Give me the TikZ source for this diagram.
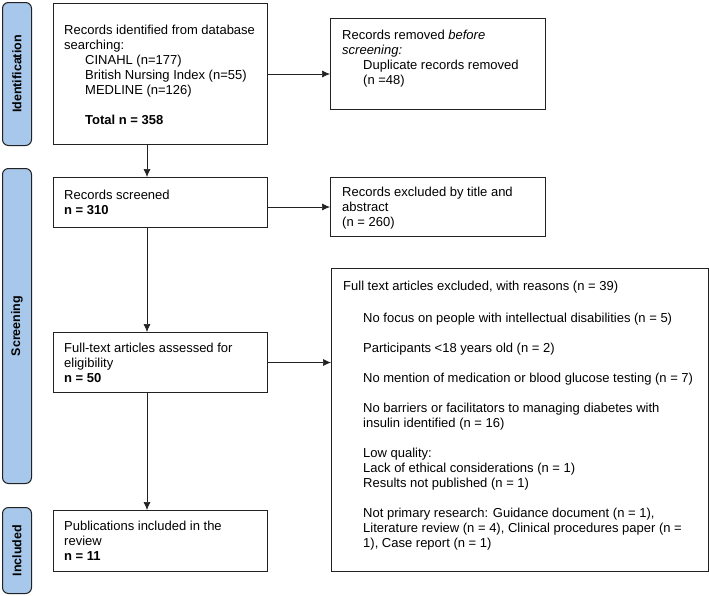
\documentclass[tikz,border=0pt]{standalone}
\usepackage{fontspec}
\setmainfont{Liberation Sans}
\usetikzlibrary{arrows.meta}
\definecolor{barblue}{HTML}{A7C7EB}
\definecolor{edge}{HTML}{222222}
\begin{document}
\begin{tikzpicture}[x=1pt,y=-1pt,
  box/.style={draw=edge, line width=1pt, anchor=north west, inner sep=0pt},
  bar/.style={draw=edge, fill=barblue, line width=1pt, rounded corners=6pt, anchor=north west, inner sep=0pt},
  txt/.style={anchor=north west, inner sep=0pt, align=left, font=\fontsize{13}{15}\selectfont},
  lab/.style={rotate=90, inner sep=0pt, font=\bfseries\fontsize{12.5}{14}\selectfont},
  arr/.style={-{Latex[length=8pt,width=7pt]}, line width=0.7pt, draw=edge}]
\useasboundingbox (0,0) rectangle (709,595);
% phase bars
\node[bar, minimum width=29pt, minimum height=143pt] (idbar) at (2,2) {};
\node[bar, minimum width=29pt, minimum height=315pt] (scbar) at (2,168) {};
\node[bar, minimum width=29pt, minimum height=86pt] (inbar) at (2,507) {};
\node[lab] (idlab) at (idbar.center) {Identification};
\node[lab] (sclab) at (scbar.center) {Screening};
\node[lab] (inlab) at (inbar.center) {Included};
% boxes
\node[box, minimum width=214pt, minimum height=141pt] (b1) at (53,3) {};
\node[box, minimum width=215pt, minimum height=91pt] (rem) at (330,18) {};
\node[box, minimum width=214pt, minimum height=50pt] (scr) at (53,177) {};
\node[box, minimum width=215pt, minimum height=59pt] (exc) at (330,177) {};
\node[box, minimum width=214pt, minimum height=60pt] (ft) at (53,332) {};
\node[box, minimum width=214pt, minimum height=61pt] (inc) at (53,510) {};
\node[box, minimum width=377pt, minimum height=303pt] (big) at (331,268) {};
% texts
\node[txt] (t1) at (64,24.5) {Records identified from database\\
searching:\\
\hspace*{21pt}CINAHL (n=177)\\
\hspace*{21pt}British Nursing Index (n=55)\\
\hspace*{21pt}MEDLINE (n=126)\\[15pt]
\hspace*{21pt}\textbf{Total n = 358}};
\node[txt] (trem) at (342,29.5) {Records removed \textit{before}\\
\textit{screening:}\\
\hspace*{21pt}Duplicate records removed\\
\hspace*{21pt}(n =48)};
\node[txt] (tscr) at (64,190) {Records screened\\ \textbf{n = 310}};
\node[txt] (texc) at (342,187) {Records excluded by title and\\ abstract\\ (n = 260)};
\node[txt] (tft) at (64,343) {Full-text articles assessed for\\ eligibility\\ \textbf{n = 50}};
\node[txt] (tinc) at (64,521) {Publications included in the\\ review\\ \textbf{n = 11}};
\node[txt] (tbig) at (343,281) {Full text articles excluded, with reasons (n = 39)\\[17pt]
\hspace*{20pt}No focus on people with intellectual disabilities (n = 5)\\[15pt]
\hspace*{20pt}Participants <18 years old (n = 2)\\[15pt]
\hspace*{20pt}No mention of medication or blood glucose testing (n = 7)\\[15pt]
\hspace*{20pt}No barriers or facilitators to managing diabetes with\\
\hspace*{20pt}insulin identified (n = 16)\\[15pt]
\hspace*{20pt}Low quality:\\
\hspace*{20pt}Lack of ethical considerations (n = 1)\\
\hspace*{20pt}Results not published (n = 1)\\[15pt]
\hspace*{20pt}Not primary research: Guidance document (n = 1),\\
\hspace*{20pt}Literature review (n = 4), Clinical procedures paper (n =\\
\hspace*{20pt}1), Case report (n = 1)};
% connectors
\draw[arr] (b1.east) -- (b1.east -| rem.west);
\draw[arr] (exc.west -| scr.east) -- (exc.west);
\draw[arr] (ft.east) -- (ft.east -| big.west);
\draw[arr] ([xshift=94pt]b1.south west) -- ([xshift=94pt]scr.north west);
\draw[arr] ([xshift=94pt]scr.south west) -- ([xshift=94pt]ft.north west);
\draw[arr] ([xshift=94pt]ft.south west) -- ([xshift=94pt]inc.north west);
\end{tikzpicture}
\end{document}
